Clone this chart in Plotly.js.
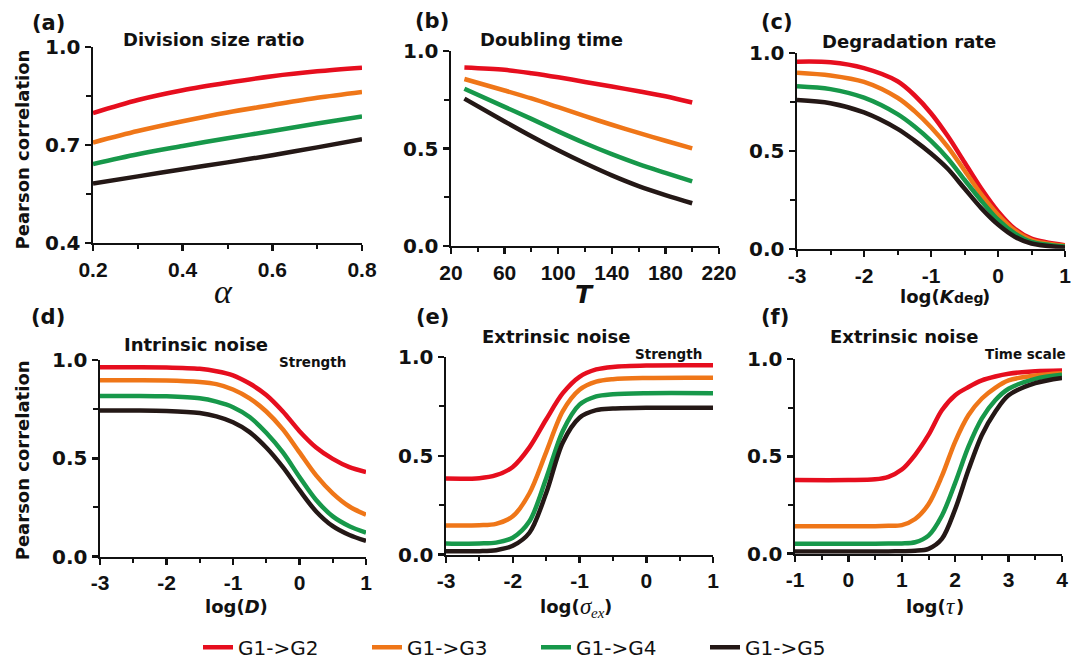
<!DOCTYPE html>
<html>
<head>
<meta charset="utf-8">
<script src="https://cdn.plot.ly/plotly-3.0.1.min.js"></script>
<style>
  html, body { margin: 0; padding: 0; background: #ffffff; }
  #chart { width: 1071px; height: 667px; }
</style>
</head>
<body>
<div id="chart"></div>
<script>
// ---------------- DATA ----------------
const seriesNames = ['G1->G2', 'G1->G3', 'G1->G4', 'G1->G5'];

// (a) Division size ratio, x = alpha
const alphaX = [0.2, 0.3, 0.4, 0.5, 0.6, 0.7, 0.8];
const divRatio_G2 = [0.798, 0.838, 0.868, 0.891, 0.911, 0.926, 0.937];
const divRatio_G3 = [0.708, 0.743, 0.773, 0.800, 0.823, 0.845, 0.863];
const divRatio_G4 = [0.642, 0.672, 0.697, 0.721, 0.743, 0.766, 0.788];
const divRatio_G5 = [0.582, 0.604, 0.626, 0.647, 0.669, 0.693, 0.718];

// (b) Doubling time, x = T
const doublingX = [30, 60, 80, 100, 120, 140, 160, 180, 200];
const doubling_G2 = [0.916, 0.904, 0.887, 0.866, 0.842, 0.818, 0.794, 0.768, 0.736];
const doubling_G3 = [0.857, 0.798, 0.757, 0.712, 0.666, 0.622, 0.580, 0.540, 0.501];
const doubling_G4 = [0.807, 0.714, 0.652, 0.588, 0.527, 0.471, 0.420, 0.375, 0.331];
const doubling_G5 = [0.756, 0.639, 0.563, 0.491, 0.424, 0.362, 0.307, 0.261, 0.219];

// (c) Degradation rate, x = log(Kdeg)
const degX = [-3, -2.5, -2, -1.5, -1.25, -1, -0.75, -0.5, -0.25, 0, 0.25, 0.5, 1];
const deg_G2 = [0.956, 0.953, 0.923, 0.856, 0.786, 0.693, 0.576, 0.442, 0.308, 0.191, 0.102, 0.052, 0.018];
const deg_G3 = [0.900, 0.886, 0.853, 0.772, 0.705, 0.621, 0.521, 0.400, 0.278, 0.174, 0.094, 0.045, 0.015];
const deg_G4 = [0.831, 0.816, 0.772, 0.688, 0.626, 0.551, 0.462, 0.353, 0.246, 0.149, 0.079, 0.035, 0.012];
const deg_G5 = [0.760, 0.744, 0.697, 0.613, 0.554, 0.487, 0.409, 0.308, 0.208, 0.124, 0.062, 0.027, 0.007];

// (d) Intrinsic noise strength, x = log(D)
const intrX = [-3, -2.5, -2, -1.5, -1.25, -1, -0.75, -0.5, -0.25, 0, 0.25, 0.5, 0.75, 1];
const intr_G2 = [0.963, 0.963, 0.962, 0.955, 0.943, 0.922, 0.880, 0.822, 0.738, 0.638, 0.555, 0.497, 0.455, 0.430];
const intr_G3 = [0.897, 0.897, 0.896, 0.888, 0.877, 0.850, 0.805, 0.738, 0.647, 0.530, 0.413, 0.322, 0.255, 0.213];
const intr_G4 = [0.817, 0.817, 0.815, 0.805, 0.788, 0.760, 0.710, 0.630, 0.530, 0.405, 0.288, 0.205, 0.155, 0.122];
const intr_G5 = [0.743, 0.743, 0.741, 0.730, 0.713, 0.683, 0.633, 0.555, 0.455, 0.338, 0.230, 0.155, 0.110, 0.080];

// (e) Extrinsic noise strength, x = log(sigma_ex)
const extrX = [-3, -2.5, -2.25, -2, -1.75, -1.5, -1.25, -1, -0.75, -0.5, 0, 1];
const extr_G2 = [0.385, 0.387, 0.402, 0.444, 0.543, 0.684, 0.817, 0.900, 0.937, 0.950, 0.957, 0.958];
const extr_G3 = [0.148, 0.149, 0.156, 0.194, 0.311, 0.518, 0.726, 0.834, 0.875, 0.888, 0.894, 0.895];
const extr_G4 = [0.056, 0.057, 0.061, 0.086, 0.169, 0.385, 0.626, 0.759, 0.801, 0.812, 0.817, 0.817];
const extr_G5 = [0.017, 0.018, 0.023, 0.045, 0.111, 0.311, 0.568, 0.693, 0.731, 0.739, 0.743, 0.743];

// (f) Extrinsic noise time scale, x = log(tau)
const tauX = [-1, 0, 0.5, 0.75, 1, 1.25, 1.5, 1.75, 2, 2.25, 2.5, 2.75, 3, 3.5, 4];
const tau_G2 = [0.378, 0.378, 0.382, 0.395, 0.432, 0.508, 0.610, 0.737, 0.814, 0.856, 0.890, 0.910, 0.924, 0.937, 0.941];
const tau_G3 = [0.141, 0.141, 0.141, 0.143, 0.147, 0.178, 0.254, 0.398, 0.576, 0.712, 0.797, 0.852, 0.890, 0.915, 0.927];
const tau_G4 = [0.051, 0.051, 0.051, 0.052, 0.053, 0.059, 0.093, 0.195, 0.364, 0.551, 0.695, 0.788, 0.847, 0.898, 0.919];
const tau_G5 = [0.012, 0.012, 0.012, 0.012, 0.013, 0.015, 0.025, 0.076, 0.229, 0.432, 0.610, 0.729, 0.814, 0.876, 0.903];

// tick labels
const ticksAlpha = [0.2, 0.4, 0.6, 0.8];
const ticksAlphaText = ['0.2', '0.4', '0.6', '0.8'];
const ticksT = [20, 60, 100, 140, 180, 220];
const ticksTText = ['20', '60', '100', '140', '180', '220'];
const ticksLog3 = [-3, -2, -1, 0, 1];
const ticksLog3Text = ['-3', '-2', '-1', '0', '1'];
const ticksTau = [-1, 0, 1, 2, 3, 4];
const ticksTauText = ['-1', '0', '1', '2', '3', '4'];
const ticksYa = [0.4, 0.7, 1.0];
const ticksYaText = ['0.4', '0.7', '1.0'];
const ticksY = [0, 0.5, 1.0];
const ticksYText = ['0.0', '0.5', '1.0'];

// ---------------- STYLE ----------------
const colors = ['#E60E1E', '#EF7618', '#17984A', '#241816'];
const W = 1071, H = 667;
const fx = p => p / W;
const fy = p => 1 - p / H;
const SANS = 'DejaVu Sans, Verdana, sans-serif';
const ARIAL = 'Liberation Sans, Arial, sans-serif';
const SERIF = 'Liberation Serif, Times New Roman, serif';
const INK = '#111111';

const panels = [
  {x: alphaX, ys: [divRatio_G2, divRatio_G3, divRatio_G4, divRatio_G5]},
  {x: doublingX, ys: [doubling_G2, doubling_G3, doubling_G4, doubling_G5]},
  {x: degX, ys: [deg_G2, deg_G3, deg_G4, deg_G5]},
  {x: intrX, ys: [intr_G2, intr_G3, intr_G4, intr_G5]},
  {x: extrX, ys: [extr_G2, extr_G3, extr_G4, extr_G5]},
  {x: tauX, ys: [tau_G2, tau_G3, tau_G4, tau_G5]}
];

const traces = [];
panels.forEach((p, i) => {
  const s = i === 0 ? '' : String(i + 1);
  p.ys.forEach((y, k) => {
    traces.push({
      type: 'scatter', mode: 'lines',
      x: p.x, y: y,
      name: seriesNames[k],
      legendgroup: seriesNames[k],
      showlegend: i === 0,
      xaxis: 'x' + s, yaxis: 'y' + s,
      line: {color: colors[k], width: 4.5, shape: 'spline', smoothing: 0.9},
      hoverinfo: 'x+y+name'
    });
  });
});

function xax(domPx, range, tv, tt, minorD, yanchor) {
  return {
    domain: [fx(domPx[0]), fx(domPx[1])], range: range, anchor: yanchor,
    tickmode: 'array', tickvals: tv, ticktext: tt,
    showline: true, linecolor: INK, linewidth: 2.5,
    ticks: 'outside', ticklen: 6, tickwidth: 2.5, tickcolor: INK,
    minor: {dtick: minorD, tick0: range[0], ticks: 'outside', ticklen: 4, tickwidth: 2, tickcolor: INK, showgrid: false},
    showgrid: false, zeroline: false, fixedrange: true,
    ticklabeloverflow: 'allow',
    tickfont: {family: ARIAL, size: 21, color: INK, weight: 'bold'}
  };
}
function yax(domPx, range, tv, tt, minorD, xanchor) {
  return {
    domain: [fy(domPx[1]), fy(domPx[0])], range: range, anchor: xanchor,
    tickmode: 'array', tickvals: tv, ticktext: tt,
    showline: true, linecolor: INK, linewidth: 2.5,
    ticks: 'outside', ticklen: 6, tickwidth: 2.5, tickcolor: INK,
    minor: {dtick: minorD, tick0: range[0], ticks: 'outside', ticklen: 5, tickwidth: 2, tickcolor: INK, showgrid: false},
    showgrid: false, zeroline: false, fixedrange: true,
    ticklabeloverflow: 'allow',
    tickfont: {family: SANS, size: 20, color: INK, weight: 'bold'}
  };
}

function ann(text, xp, yp, size, family, extra) {
  return Object.assign({
    text: text, xref: 'paper', yref: 'paper', x: fx(xp), y: fy(yp),
    xanchor: 'center', yanchor: 'middle', showarrow: false, borderpad: 0,
    font: {family: family || SANS, size: size, color: INK}
  }, extra || {});
}
const L = {xanchor: 'left'}, R = {xanchor: 'right'};

const annotations = [
  // panel letters
  ann('<b>(a)</b>', 48, 23, 21), ann('<b>(b)</b>', 432, 21, 21), ann('<b>(c)</b>', 777, 22, 21),
  ann('<b>(d)</b>', 48, 322, 21), ann('<b>(e)</b>', 432, 322, 21), ann('<b>(f)</b>', 775, 322, 21),
  // panel titles
  ann('<b>Division size ratio</b>', 213, 40, 18),
  ann('<b>Doubling time</b>', 552, 40, 18),
  ann('<b>Degradation rate</b>', 909, 42, 18),
  ann('<b>Intrinsic noise</b>', 196, 350, 18),
  ann('<b>Extrinsic noise</b>', 556, 342, 18),
  ann('<b>Extrinsic noise</b>', 904, 342, 18),
  ann('<b>Strength</b>', 312, 368, 13.5),
  ann('<b>Strength</b>', 668, 360, 13.5),
  ann('<b>Time scale</b>', 1025, 360, 13.5),
  // axis titles
  ann('<i>α</i>', 223, 296, 34, SERIF),
  ann('<b><i>T</i></b>', 585, 299, 25),
  ann('<b>log(<i>K</i></b>', 957, 301, 18, SANS, R),
  ann('<b>deg</b>', 953, 302.5, 14, SANS, L),
  ann('<b>)</b>', 981, 301, 18, SANS, L),
  ann('<b>log(</b>', 581, 617, 18, SANS, R),
  ann('<i>σ</i>', 579, 617, 23, SERIF, L),
  ann('<i>ex</i>', 590, 623, 15, SERIF, L),
  ann('<b>)</b>', 603, 617, 18, SANS, L),
  ann('<b>log(<i>D</i>)</b>', 236, 617, 18),
  ann('<b>log(</b>', 947, 617, 18, SANS, R),
  ann('<i>τ</i>', 945, 617, 23, SERIF, L),
  ann('<b>)</b>', 955, 617, 18, SANS, L),
  ann('<b>Pearson correlation</b>', 22, 152, 18, SANS, {textangle: -90}),
  ann('<b>Pearson correlation</b>', 22, 468, 18, SANS, {textangle: -90})
];

const layout = {
  width: W, height: H,
  margin: {l: 0, r: 0, t: 0, b: 0},
  paper_bgcolor: '#ffffff', plot_bgcolor: '#ffffff',
  showlegend: true,
  legend: {
    orientation: 'h', x: fx(198), xanchor: 'left', y: fy(658), yanchor: 'middle',
    entrywidth: 124, entrywidthmode: 'pixels',
    font: {family: SANS, size: 20, color: INK},
    bgcolor: 'rgba(0,0,0,0)', borderwidth: 0
  },
  xaxis:  xax([93, 362], [0.2, 0.8], ticksAlpha, ticksAlphaText, 0.1, 'y'),
  yaxis:  yax([48, 247], [0.4, 1.0], ticksYa, ticksYaText, 0.15, 'x'),
  xaxis2: xax([451, 719], [20, 220], ticksT, ticksTText, 20, 'y2'),
  yaxis2: yax([52, 250], [0, 1], ticksY, ticksYText, 0.25, 'x2'),
  xaxis3: xax([797, 1065], [-3, 1], ticksLog3, ticksLog3Text, 0.5, 'y3'),
  yaxis3: yax([54, 253], [0, 1], ticksY, ticksYText, 0.25, 'x3'),
  xaxis4: xax([100, 366], [-3, 1], ticksLog3, ticksLog3Text, 0.5, 'y4'),
  yaxis4: yax([366, 566], [0, 1], ticksY, ticksYText, 0.25, 'x4'),
  xaxis5: xax([446, 713], [-3, 1], ticksLog3, ticksLog3Text, 0.5, 'y5'),
  yaxis5: yax([363, 564], [0, 1], ticksY, ticksYText, 0.25, 'x5'),
  xaxis6: xax([795, 1062], [-1, 4], ticksTau, ticksTauText, 0.5, 'y6'),
  yaxis6: yax([365, 563], [0, 1], ticksY, ticksYText, 0.25, 'x6'),
  annotations: annotations
};

Plotly.newPlot('chart', traces, layout, {displayModeBar: false, staticPlot: true});
</script>
</body>
</html>
